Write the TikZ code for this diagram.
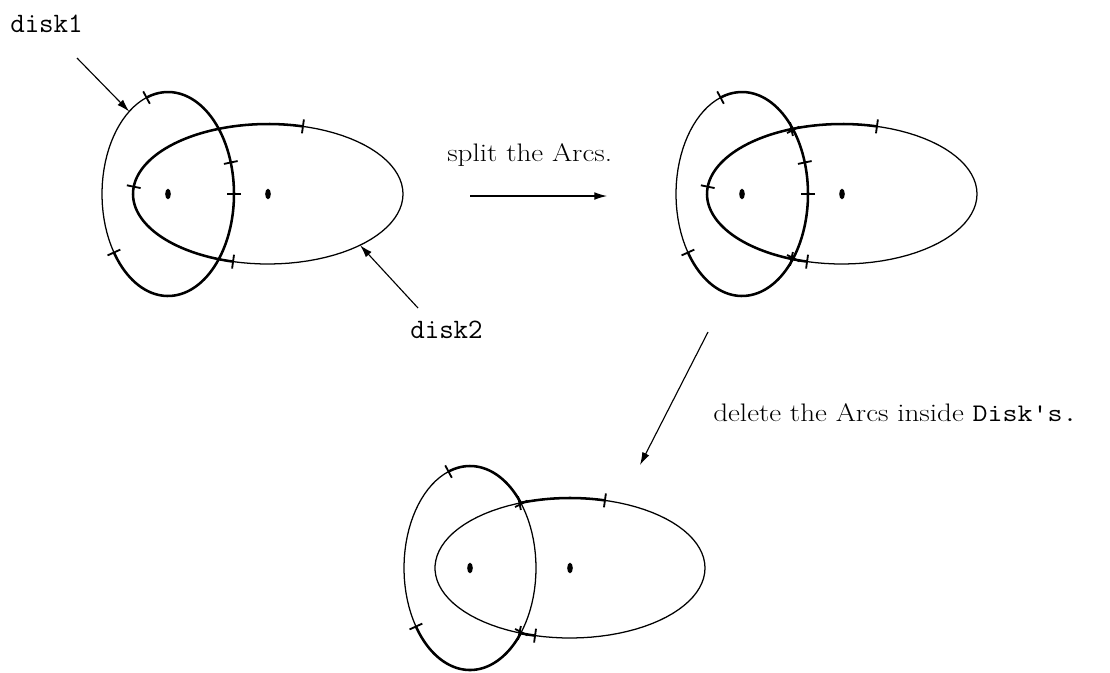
\documentclass[tikz,border=0pt]{standalone}
\usepackage{graphicx}
\usetikzlibrary{arrows.meta,shapes.geometric}

% arcs of the two disks (disk1 centred at the scope origin)
\newcommand{\diskonearc}[2]{plot[domain=#1:#2, samples=90, variable=\t] ({66*cos(\t)},{102*sin(\t)})}
\newcommand{\disktwoarc}[2]{plot[domain=#1:#2, samples=90, variable=\t] ({100+135*cos(\t)},{70*sin(\t)})}
% short mark across an arc: x shift, x radius, y radius, angle
\newcommand{\arcmark}[4]{%
  \draw[markline] ({#1+#2*cos(#4)},{#3*sin(#4)})
    ++({atan2(#2*sin(#4),#3*cos(#4))}:7) -- ++({atan2(#2*sin(#4),#3*cos(#4))+180}:14);}
\newcommand{\markone}[1]{\arcmark{0}{66}{102}{#1}}
\newcommand{\marktwo}[1]{\arcmark{100}{135}{70}{#1}}

\begin{document}
\begin{tikzpicture}[x=0.025cm, y=0.025cm,
    thinarc/.style={line width=0.9pt},
    thickarc/.style={line width=1.8pt},
    markline/.style={line width=1.3pt},
    pointer/.style={line width=0.8pt, -{Latex[length=9pt,width=5.5pt]}},
    centre/.style={ellipse, fill, inner sep=0pt, minimum width=4pt, minimum height=7.5pt},
    ttlabel/.style={font=\fontsize{20}{24}\selectfont\ttfamily, inner sep=0pt},
    rmlabel/.style={font=\fontsize{18}{22}\selectfont, inner sep=0pt}]
    \useasboundingbox (0,0) rectangle (1110,-672);

    % Disks before splitting
    \begin{scope}[shift={(168,-194)}]
        \draw[thinarc] \diskonearc{0}{360};
        \draw[thinarc] \disktwoarc{0}{360};
        \draw[thickarc] \diskonearc{-145}{109};
        \draw[thickarc] \disktwoarc{75}{255};
        \foreach \a in {109,215,18,0} {\markone{\a}}
        \foreach \a in {75,174,255} {\marktwo{\a}}
        \node[centre] (oonea) at (0,0) {};
        \node[centre] (otwoa) at (100,0) {};
        \coordinate (hitone) at ({66*cos(126)},{102*sin(126)});
        \coordinate (hittwo) at ({100+135*cos(-47)},{70*sin(-47)});
    \end{scope}

    % Labels of the disks
    \node[ttlabel, anchor=base west] (lblone) at (10,-32) {disk1};
    \coordinate (tailone) at (77,-58);
    \draw[pointer] (tailone) -- (hitone);
    \node[ttlabel, anchor=base west] (lbltwo) at (410,-338) {disk2};
    \coordinate (tailtwo) at (418,-308);
    \draw[pointer] (tailtwo) -- (hittwo);

    % Split step
    \node[rmlabel, anchor=base west] (splittxt) at (447,-161) {\scalebox{1.15}[1]{split the Arcs.}};
    \coordinate (splitfrom) at (470,-196);
    \coordinate (splitto) at (607,-196);
    \draw[pointer] (splitfrom) -- (splitto);

    % Disks after splitting
    \begin{scope}[shift={(742,-194)}]
        \draw[thinarc] \diskonearc{0}{360};
        \draw[thinarc] \disktwoarc{0}{360};
        \draw[thickarc] \diskonearc{-145}{109};
        \draw[thickarc] \disktwoarc{75}{255};
        \foreach \a in {109,215,18,0,39,-39} {\markone{\a}}
        \foreach \a in {75,174,255,112,248} {\marktwo{\a}}
        \node[centre] (ooneb) at (0,0) {};
        \node[centre] (otwob) at (100,0) {};
    \end{scope}

    % Delete step
    \node[rmlabel, anchor=base west] (deltxt) at (713,-421) {\scalebox{1.15}[1]{delete the Arcs inside \texttt{Disk's.}}};
    \coordinate (delfrom) at (708,-332);
    \coordinate (delto) at (640,-465);
    \draw[pointer] (delfrom) -- (delto);

    % Disks after deleting
    \begin{scope}[shift={(470,-568)}]
        \draw[thinarc] \diskonearc{0}{360};
        \draw[thinarc] \disktwoarc{0}{360};
        \draw[thickarc] \diskonearc{39}{109};
        \draw[thickarc] \diskonearc{-145}{-39};
        \draw[thickarc] \disktwoarc{75}{112};
        \draw[thickarc] \disktwoarc{248}{255};
        \foreach \a in {109,215,39,-39} {\markone{\a}}
        \foreach \a in {75,255,112,248} {\marktwo{\a}}
        \node[centre] (oonec) at (0,0) {};
        \node[centre] (otwoc) at (100,0) {};
    \end{scope}
\end{tikzpicture}
\end{document}
